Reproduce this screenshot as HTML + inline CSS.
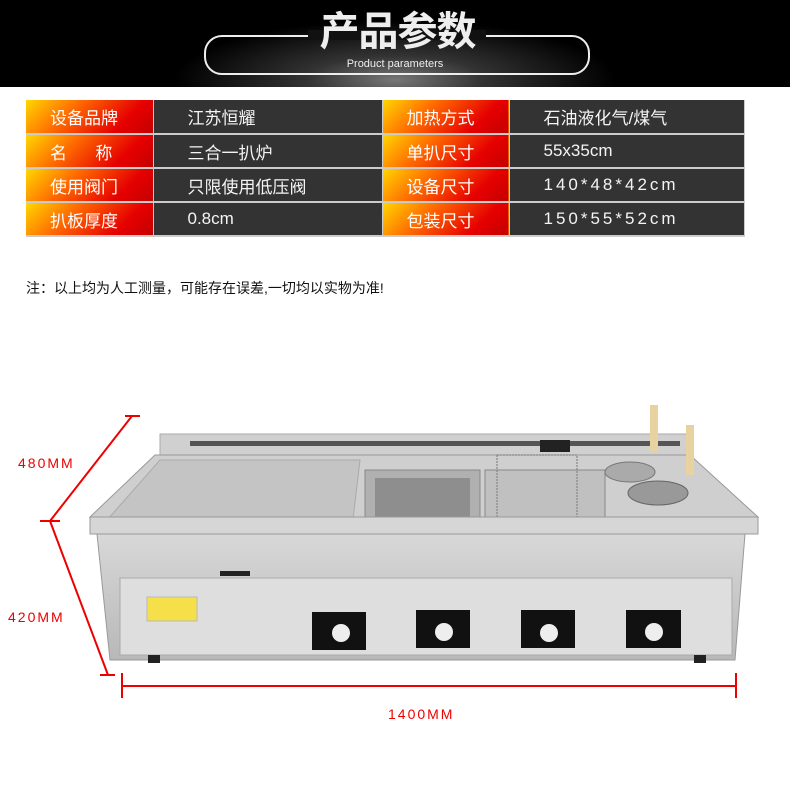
<!DOCTYPE html>
<html><head><meta charset="utf-8"><style>
body{margin:0;width:790px;height:795px;background:#fff;position:relative;overflow:hidden;font-family:"Liberation Sans","Noto Sans CJK SC",sans-serif}
.hd{position:absolute;left:0;top:0;width:790px;height:87px;background:radial-gradient(ellipse 220px 60px at 395px 80px,#777 0%,#333 40%,#000 100%)}
.rr{position:absolute;left:204px;top:35px;width:386px;height:40px;border:2px solid #eee;border-radius:18px;box-sizing:border-box}
.tt{position:absolute;left:310px;top:12px;width:175px;height:40px;text-align:center;font-size:40px;font-weight:bold;color:#eee;line-height:40px;letter-spacing:-1px}
.mask{position:absolute;left:308px;top:30px;width:178px;height:10px;background:#111}
.sub{position:absolute;left:0;width:790px;top:58px;text-align:center;color:#eee;font-size:11px}
table{position:absolute;left:26px;top:100px;border-collapse:collapse}
td{height:34px;padding:0;font-size:17px;color:#fff;border-bottom:2px solid #ccc;border-right:1px solid #ccc}
td.l{width:127px;background:linear-gradient(135deg,#ffd800 0%,#ff6a00 35%,#e60000 75%,#c40000 100%);padding-left:24px;box-sizing:border-box;color:#fff}
td.v{background:#333;padding-left:34px;box-sizing:border-box;color:#f4f4f4}
.note{position:absolute;left:26px;top:278px;font-size:14px;color:#111}
.dim{position:absolute;color:#e00;font-size:14px;letter-spacing:2px}
</style></head><body>
<div class="hd"></div>
<div class="rr"></div>
<div class="mask"></div>
<div class="tt">产品参数</div>
<div class="sub">Product parameters</div>
<table>
<tr><td class="l">设备品牌</td><td class="v" style="width:229px">江苏恒耀</td><td class="l" style="width:127px">加热方式</td><td class="v" style="width:235px">石油液化气/煤气</td></tr>
<tr><td class="l">名&nbsp;&nbsp;&nbsp;&nbsp;&nbsp;&nbsp;称</td><td class="v">三合一扒炉</td><td class="l">单扒尺寸</td><td class="v">55x35cm</td></tr>
<tr><td class="l">使用阀门</td><td class="v">只限使用低压阀</td><td class="l">设备尺寸</td><td class="v" style="letter-spacing:3px">140*48*42cm</td></tr>
<tr><td class="l">扒板厚度</td><td class="v">0.8cm</td><td class="l">包装尺寸</td><td class="v" style="letter-spacing:3px">150*55*52cm</td></tr>
</table>
<div class="note">注：以上均为人工测量，可能存在误差,一切均以实物为准!</div>
<svg width="790" height="795" style="position:absolute;left:0;top:0">
<defs><linearGradient id="s" x1="0" y1="0" x2="0" y2="1"><stop offset="0" stop-color="#d8d8d8"/><stop offset="1" stop-color="#b8b8b8"/></linearGradient></defs>
<rect x="160" y="434" width="530" height="22" fill="#d0d0d0" stroke="#aaa"/>
<rect x="190" y="441" width="490" height="5" fill="#555"/>
<polygon points="155,455 690,455 758,517 90,517" fill="#cfcfcf" stroke="#999"/>
<polygon points="160,460 360,460 352,528 100,528" fill="#c4c4c4" stroke="#aaa"/>
<rect x="365" y="470" width="115" height="60" fill="#b0b0b0" stroke="#888"/>
<rect x="375" y="478" width="95" height="45" fill="#8e8e8e"/>
<rect x="485" y="470" width="120" height="60" fill="#c0c0c0" stroke="#888"/>
<rect x="497" y="455" width="80" height="68" fill="none" stroke="#777" stroke-dasharray="2,1"/>
<rect x="540" y="440" width="30" height="12" fill="#222"/>
<ellipse cx="630" cy="472" rx="25" ry="10" fill="#aaa" stroke="#777"/>
<ellipse cx="658" cy="493" rx="30" ry="12" fill="#999" stroke="#666"/>
<rect x="650" y="405" width="8" height="46" fill="#e8d2a0"/>
<rect x="686" y="425" width="8" height="50" fill="#e8d2a0"/>
<rect x="90" y="517" width="668" height="17" fill="#d6d6d6" stroke="#999"/>
<polygon points="97,534 745,534 735,660 110,660" fill="url(#s)" stroke="#999"/>
<rect x="120" y="578" width="612" height="77" fill="#dedede" stroke="#aaa"/>
<rect x="220" y="571" width="30" height="5" fill="#222"/>
<rect x="147" y="597" width="50" height="24" fill="#f6e04a" stroke="#bbb"/>
<g fill="#111"><rect x="312" y="612" width="54" height="38"/><rect x="416" y="610" width="54" height="38"/><rect x="521" y="610" width="54" height="38"/><rect x="626" y="610" width="55" height="38"/></g>
<g fill="#eee"><circle cx="341" cy="633" r="9"/><circle cx="444" cy="632" r="9"/><circle cx="549" cy="633" r="9"/><circle cx="654" cy="632" r="9"/></g>
<g fill="#222"><rect x="148" y="655" width="12" height="8"/><rect x="694" y="655" width="12" height="8"/></g>
<g stroke="#e00" stroke-width="2" fill="none">
<line x1="132" y1="416" x2="50" y2="521"/><line x1="125" y1="416" x2="140" y2="416"/>
<line x1="40" y1="521" x2="60" y2="521"/><line x1="50" y1="521" x2="108" y2="675"/><line x1="100" y1="675" x2="115" y2="675"/>
<line x1="122" y1="686" x2="736" y2="686"/><line x1="122" y1="673" x2="122" y2="698"/><line x1="736" y1="673" x2="736" y2="698"/>
</g></svg>
<div class="dim" style="left:18px;top:455px">480MM</div>
<div class="dim" style="left:8px;top:609px">420MM</div>
<div class="dim" style="left:388px;top:706px">1400MM</div>
</body></html>
